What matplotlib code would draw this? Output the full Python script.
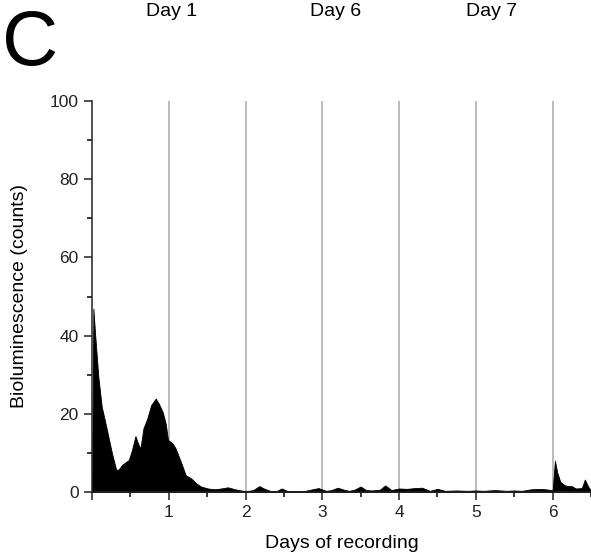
import matplotlib.pyplot as plt
from matplotlib.ticker import MultipleLocator

# trace (days, counts)
days = [0.0, 0.018, 0.04, 0.083, 0.127, 0.171, 0.215, 0.26, 0.316, 0.35, 0.39, 0.43, 0.48,
        0.52, 0.566, 0.6, 0.63, 0.67, 0.72, 0.77, 0.83, 0.87, 0.92, 0.96, 0.99, 1.05, 1.09,
        1.14, 1.18, 1.22, 1.29, 1.36, 1.42, 1.51, 1.6, 1.68, 1.77, 1.86, 1.97, 2.04, 2.1,
        2.18, 2.25, 2.32, 2.4, 2.47, 2.54, 2.65, 2.75, 2.85, 2.95, 3.05, 3.12, 3.2, 3.28,
        3.35, 3.42, 3.5, 3.57, 3.65, 3.75, 3.82, 3.9, 4.0, 4.1, 4.2, 4.3, 4.4, 4.5, 4.6,
        4.75, 4.9, 5.0, 5.1, 5.25, 5.4, 5.5, 5.6, 5.72, 5.85, 5.95, 6.0, 6.03, 6.06, 6.1,
        6.15, 6.2, 6.25, 6.3, 6.38, 6.42, 6.46, 6.5]
counts = [0.0, 46.9, 40.5, 29.4, 21.8, 18.0, 14.0, 9.9, 5.6, 5.8, 6.9, 7.5, 8.2,
          10.7, 14.3, 12.4, 11.1, 16.3, 18.8, 22.2, 23.9, 22.6, 20.5, 17.5, 13.3, 12.4, 11.1,
          8.6, 6.5, 4.3, 3.5, 2.2, 1.4, 0.9, 0.7, 0.9, 1.2, 0.7, 0.3, 0.3, 0.5,
          1.5, 0.8, 0.3, 0.2, 0.9, 0.3, 0.2, 0.2, 0.6, 1.0, 0.3, 0.5, 1.1, 0.6,
          0.3, 0.6, 1.4, 0.5, 0.4, 0.6, 1.7, 0.5, 0.9, 0.8, 1.0, 1.1, 0.3, 0.8, 0.3,
          0.4, 0.3, 0.4, 0.3, 0.5, 0.3, 0.4, 0.3, 0.7, 0.8, 0.6, 0.4, 8.0, 5.0, 2.6,
          1.8, 1.5, 1.5, 0.9, 1.0, 3.2, 1.5, 0.3]

day_lines = [1, 2, 3, 4, 5, 6]
day_labels = ["Day 1", "Day 6", "Day 7"]
day_label_x = [172, 336, 492]  # pixel centres in the original panel

plt.rcParams['font.family'] = ['Liberation Sans', 'DejaVu Sans']

fig = plt.figure(figsize=(5.91, 5.54), dpi=100)
ax = fig.add_axes([92 / 591, 1 - 492 / 554, 1 - 92 / 591, (492 - 101) / 554])

for d in day_lines:
    ax.axvline(d, color='#b4b4b4', lw=1.3, zorder=1)

ax.fill_between(days, counts, 0, color='black', lw=0.6, edgecolor='black', zorder=2)

ax.set_xlim(0, 6.5)
ax.set_ylim(0, 100)
ax.set_xticks([0, 1, 2, 3, 4, 5, 6])
ax.set_xticklabels(['', '1', '2', '3', '4', '5', '6'])
ax.xaxis.set_minor_locator(MultipleLocator(0.5))
ax.yaxis.set_major_locator(MultipleLocator(20))
ax.yaxis.set_minor_locator(MultipleLocator(10))
ax.tick_params(which='major', length=6, width=1.1, labelsize=12.5, colors='#222222')
ax.tick_params(which='minor', length=3.5, width=1.1)

for s in ['top', 'right']:
    ax.spines[s].set_visible(False)
for s in ['left', 'bottom']:
    ax.spines[s].set_linewidth(1.1)
    ax.spines[s].set_color('#222222')

ax.set_xlabel('Days of recording', fontsize=14, labelpad=11)
ax.set_ylabel('Bioluminescence (counts)', fontsize=14, labelpad=16)

fig.text(30 / 591, 1 - 45 / 554, 'C', fontsize=56, ha='center', va='center')
for lab, px in zip(day_labels, day_label_x):
    fig.text(px / 591, 1 - 12 / 554, lab, fontsize=14, ha='center', va='center')

fig.savefig('out.png', dpi=100)
